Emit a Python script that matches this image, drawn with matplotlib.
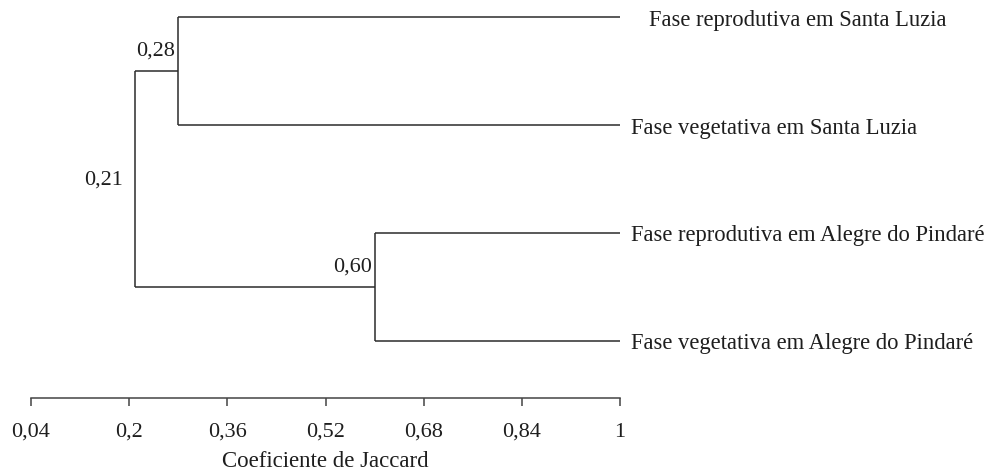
import numpy as np
import matplotlib
matplotlib.use("Agg")
import matplotlib.pyplot as plt

plt.rcParams["font.family"] = ["Liberation Serif", "DejaVu Serif"]

# leaves, top to bottom
leaves = ["Fase reprodutiva em Santa Luzia",
          "Fase vegetativa em Santa Luzia",
          "Fase reprodutiva em Alegre do Pindaré",
          "Fase vegetativa em Alegre do Pindaré"]

# merges: (similarity, child a, child b); children >= 0 are leaves, negative are earlier merges (-1 = first)
merge_height = [0.28, 0.60, 0.21]
merge_a = [0, 2, -1]
merge_b = [1, 3, -2]
merge_label = ["0,28", "0,60", "0,21"]

ticks = [0.04, 0.2, 0.36, 0.52, 0.68, 0.84, 1.0]
tick_labels = ["0,04", "0,2", "0,36", "0,52", "0,68", "0,84", "1"]
xlabel = "Coeficiente de Jaccard"

W, H = 987, 477
fig = plt.figure(figsize=(W / 100, H / 100), dpi=100)
ax = fig.add_axes([31 / W, 1 - 399 / H, 589 / W, 389 / H])

col = "#2b2b2b"
txt = "#1e1e1e"
lw = 1.1
fs = 16

n = len(leaves)
leaf_y = np.arange(n, 0, -1).astype(float)
nodes = {}
for i in range(n):
    nodes[i] = (1.0, leaf_y[i])

for k, (h, a, b) in enumerate(zip(merge_height, merge_a, merge_b)):
    xa, ya = nodes[a]
    xb, yb = nodes[b]
    ax.plot([xa, h], [ya, ya], color=col, lw=lw, solid_capstyle="butt")
    ax.plot([xb, h], [yb, yb], color=col, lw=lw, solid_capstyle="butt")
    ax.plot([h, h], [ya, yb], color=col, lw=lw, solid_capstyle="butt")
    ym = (ya + yb) / 2
    nodes[-(k + 1)] = (h, ym)
    if k == len(merge_height) - 1:
        ty = ym
    else:
        ty = (ya + ym) / 2 - 0.06
    ax.annotate(merge_label[k], (h, ty), xytext=(-2 if k < 2 else -9, 0),
                textcoords="offset points", ha="right", va="center",
                fontsize=fs, color=txt)

for i, name in enumerate(leaves):
    off = 21 if i == 0 else 8
    ax.annotate(name, (1.0, leaf_y[i]), xytext=(off, -1.5), textcoords="offset points",
                ha="left", va="center", fontsize=16.3, color=txt,
                annotation_clip=False)

ax.set_xlim(0.04, 1.0)
ax.set_ylim(0.47, 4 + 8 / 108)
for s in ["top", "right", "left"]:
    ax.spines[s].set_visible(False)
ax.spines["bottom"].set_color("#444444")
ax.spines["bottom"].set_linewidth(1.1)
ax.set_yticks([])
ax.set_xticks(ticks)
ax.set_xticklabels(tick_labels)
ax.tick_params(axis="x", direction="out", length=6, width=1.1, color="#444444",
               labelsize=fs, labelcolor=txt, pad=11)
ax.set_xlabel(xlabel, fontsize=16.5, color=txt, labelpad=7)

fig.savefig("out.png", dpi=100)
